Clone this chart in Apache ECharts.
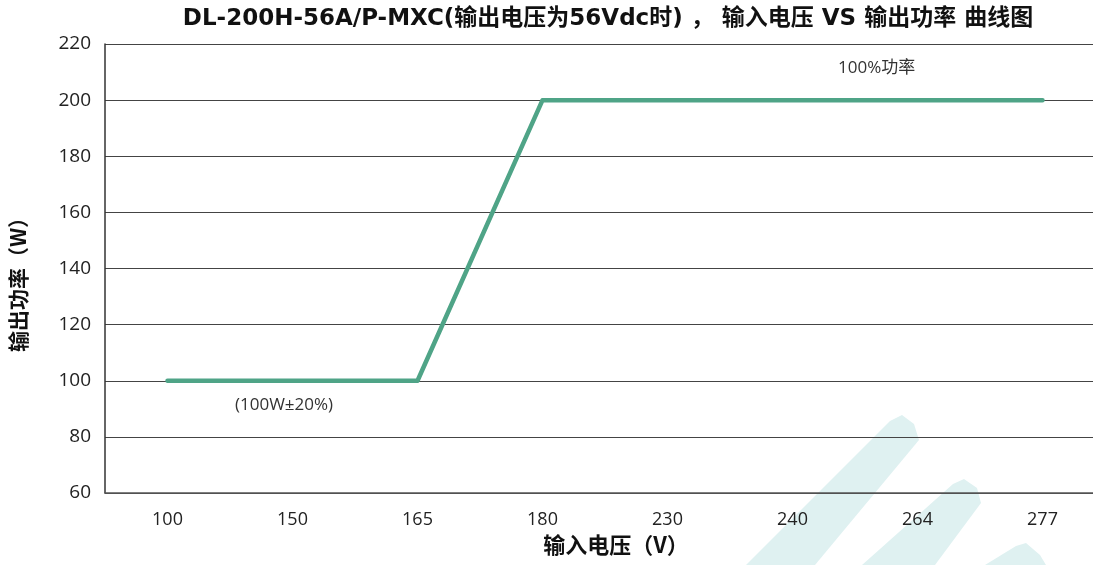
<!DOCTYPE html>
<html><head><meta charset="utf-8">
<script src="https://cdn.jsdelivr.net/npm/echarts@6/dist/echarts.min.js"></script>
<style>html,body{margin:0;padding:0;background:#fff;overflow:hidden}#c{width:1112px;height:565px}</style>
</head><body><div id="c"></div>
<script>
const titleText = 'DL-200H-56A/P-MXC(输出电压为56Vdc时) ， 输入电压 VS 输出功率 曲线图';
const categories = ['100','150','165','180','230','240','264','277'];
const powerValues = [100,100,100,200,200,200,200,200];
const yTicks = {min:60, max:220, interval:20};
const noteLow = '(100W±20%)';
const noteHigh = '100%功率';

const chart = echarts.init(document.getElementById('c'));
const font = '"Noto Sans CJK SC","Noto Sans",sans-serif';
const latin = '"Open Sans","Noto Sans CJK SC",sans-serif';
const wm = '#dff1f1';
chart.setOption({
  animation:false,
  title:{text:titleText,left:603,top:3,textAlign:'center',
    textStyle:{fontFamily:'"DejaVu Sans","Noto Sans CJK SC",sans-serif',fontWeight:'bold',fontSize:23,color:'#111'}},
  grid:{left:105,top:44,width:1000,bottom:72,containLabel:false},
  xAxis:{type:'category',data:categories,boundaryGap:true,
    name:'输入电压（V）',nameLocation:'middle',nameGap:38,
    nameTextStyle:{fontFamily:font,fontWeight:'bold',fontSize:22,color:'#111',padding:[0,0,0,22]},
    axisLine:{lineStyle:{color:'#555',width:1.5}},axisTick:{show:false},
    axisLabel:{fontFamily:latin,fontSize:18,color:'#222',margin:18},
    splitLine:{show:false}},
  yAxis:{type:'value',min:yTicks.min,max:yTicks.max,interval:yTicks.interval,
    name:'输出功率（W）',nameLocation:'middle',nameGap:76,nameRotate:90,
    nameTextStyle:{fontFamily:font,fontWeight:'bold',fontSize:21,color:'#111',padding:[0,22,0,0]},
    axisLine:{show:true,lineStyle:{color:'#333',width:1.5}},axisTick:{show:false},
    axisLabel:{fontFamily:latin,fontSize:19,color:'#222',margin:14},
    splitLine:{lineStyle:{color:'#444',width:1.2}}},
  graphic:[
    {type:'polygon',z:-10,shape:{points:[[746,565],[890,421],[902,415],[914,424],[919,440],[815,565]]},style:{fill:wm}},
    {type:'polygon',z:-10,shape:{points:[[862,565],[953,484],[964,479],[977,488],[981,503],[935,565]]},style:{fill:wm}},
    {type:'polygon',z:-10,shape:{points:[[985,565],[1016,546],[1026,543],[1040,555],[1046,565]]},style:{fill:wm}},
    {type:'text',left:235,top:397,style:{text:noteLow,fontFamily:latin,fontSize:17,fill:'#333'}},
    {type:'text',left:838,top:60,style:{text:noteHigh,fontFamily:latin,fontSize:17,fill:'#333'}}
  ],
  series:[{type:'line',data:powerValues,symbol:'none',
    lineStyle:{color:'#4fa487',width:4.5,cap:'round',join:'round'}}]
});
</script></body></html>
